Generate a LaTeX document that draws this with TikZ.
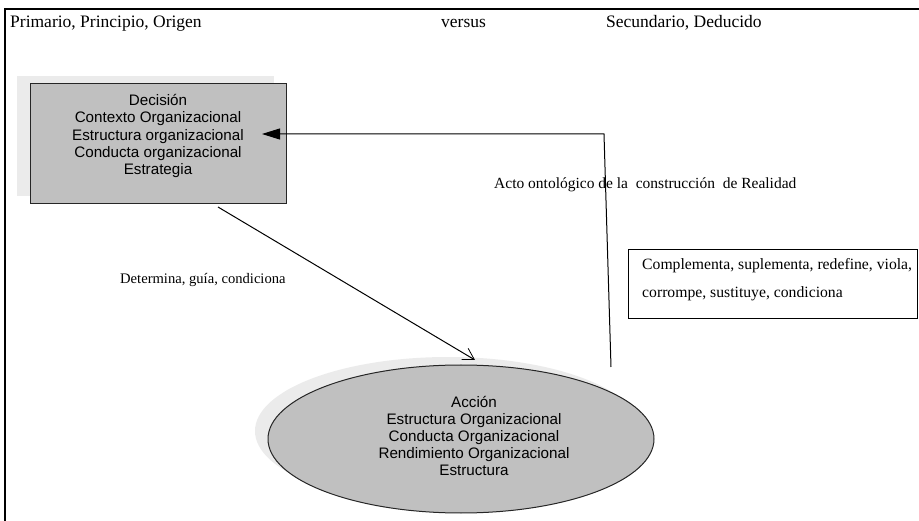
\documentclass[tikz,border=0pt]{standalone}
\usepackage{fontspec}
\setmainfont{Liberation Serif}
\setsansfont{Liberation Sans}
\usetikzlibrary{shapes.geometric,arrows.meta}

\definecolor{boxgray}{HTML}{C0C0C0}
\definecolor{shadegray}{HTML}{EBEBEB}

\begin{document}
\begin{tikzpicture}[x=1pt,y=-1pt,
  head/.style={inner sep=0, anchor=base west, font=\fontsize{17.5}{20}\selectfont},
  serif/.style={inner sep=0, anchor=base west, font=\fontsize{15.5}{18}\selectfont},
  sanslines/.style={inner sep=0, align=center, font=\sffamily\fontsize{15.2}{17.2}\selectfont},
  shade/.style={fill=shadegray, draw=none, inner sep=0},
  grayshape/.style={fill=boxgray, draw=black!85, line width=1pt, inner sep=0},
  link/.style={line width=1pt}]

\useasboundingbox (0,0) rectangle (919,521);

% frame
\draw [line width=1.5pt] (919,9) -- (5,9) -- (5,521);

\node [head] (primario) at (10,28) {Primario, Principio, Origen};
\node [head] (versus) at (441,28) {versus};
\node [head] (secundario) at (606,28) {Secundario, Deducido};

% decision
\node [shade, minimum width=257, minimum height=120] (decisionshade) at (145,136) {};
\node [grayshape, minimum width=256, minimum height=120] (decision) at (158,144) {};
\node [sanslines] (decisiontxt) at (158,136)
  {Decisi\'on\\Contexto Organizacional\\Estructura organizacional\\Conducta organizacional\\Estrategia};

% accion
\node [shade, ellipse, minimum width=386, minimum height=148] (accionshade) at (448,431) {};
\node [grayshape, ellipse, minimum width=386, minimum height=148] (accion) at (461,439) {};
\node [sanslines] (acciontxt) at (474,436)
  {Acci\'on\\Estructura Organizacional\\Conducta Organizacional\\Rendimiento Organizacional\\Estructura};

% right box
\node [draw, line width=1.2pt, inner sep=0, anchor=north west, minimum width=289, minimum height=69] (rightbox) at (628,249) {};
\node [inner sep=0, anchor=west, align=left, font=\fontsize{15.7}{28}\selectfont] (righttxt) at (642,280)
  {Complementa, suplementa, redefine, viola,\\corrompe, sustituye, condiciona};

% connectors
\coordinate (dstart) at (218,207);
\coordinate (dend) at (475,360);
\coordinate (ustart) at (611,367);
\coordinate (uturn) at (604,134);
\coordinate (utip) at (262,134);

\draw [link, -{Straight Barb[length=11pt,width=13pt,line width=0.8pt]}] (dstart) -- (dend);
\draw [link, -{Triangle[length=18pt,width=11pt]}] (ustart) -- (uturn) -- (utip);

\node [serif, font=\fontsize{14.6}{18}\selectfont] (guia) at (120,284) {Determina, gu\'ia, condiciona};
\node [serif] (acto) at (494,189) {Acto ontol\'ogico de la\ \ construcci\'on\ \ de Realidad};

\end{tikzpicture}
\end{document}
